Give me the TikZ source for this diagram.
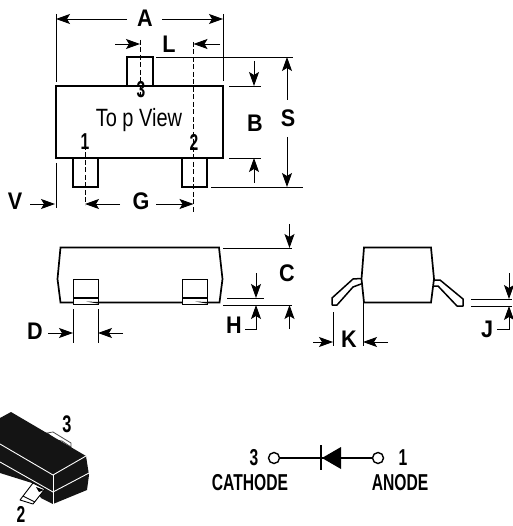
\documentclass[tikz,border=0pt]{standalone}
\usepackage{fontspec}
\usetikzlibrary{arrows.meta}
\setmainfont{Liberation Sans}
\newfontfamily\lblfont[FakeStretch=0.9]{Liberation Sans Bold}
\newfontfamily\numfont[FakeStretch=0.68]{Liberation Sans Bold}
\newfontfamily\viewfont[FakeStretch=0.8]{Liberation Sans}
\tikzset{
  x=1pt,y=-1pt,
  body/.style={draw=black,line width=1.7pt,line join=miter},
  thin line/.style={draw=black,line width=0.9pt},
  dim/.style={draw=black,line width=0.9pt,-{Stealth[length=14pt,width=10pt,inset=3pt]}},
  centre/.style={draw=black,line width=0.9pt,dash pattern=on 5pt off 2.5pt},
  lbl/.style={inner sep=0pt,font=\fontsize{24}{24}\selectfont\lblfont},
  num/.style={inner sep=0pt,font=\fontsize{23}{23}\selectfont\numfont},
}
\begin{document}
\begin{tikzpicture}
\useasboundingbox (0,0) rectangle (512,526);
% ---- top view
\draw[body] (56,86) rectangle (223,158);
\draw[body] (127,86) -- (127,57) -- (153,57) -- (153,86);
\draw[body] (73,158) -- (73,187) -- (98,187) -- (98,158);
\draw[body] (182,158) -- (182,187) -- (207,187) -- (207,158);
\draw[centre] (140,40) -- (140,98);
\draw[centre] (85,145) -- (85,205);
\draw[centre] (193.5,42) -- (193.5,212);
\draw[thin line] (56,14) -- (56,82);
\draw[thin line] (223,14) -- (223,81);
\draw[thin line] (56,163) -- (56,208);
\draw[thin line] (156,57) -- (293,57);
\draw[thin line] (229,86) -- (261,86);
\draw[thin line] (229,158) -- (261,158);
\draw[thin line] (211,187) -- (303,187);
\draw[dim] (127,19) -- (56,19);
\draw[dim] (162,19) -- (223,19);
\draw[dim] (115,44) -- (140,44);
\draw[dim] (220,44) -- (193.5,44);
\draw[dim] (254,61) -- (254,86);
\draw[dim] (254,183) -- (254,158);
\draw[dim] (287,100) -- (287,57);
\draw[dim] (287,137) -- (287,187);
\draw[dim] (30,204) -- (55,204);
\draw[dim] (120,204) -- (85,204);
\draw[dim] (156,204) -- (193.5,204);
\node[lbl] (lA) at (145,18) {A};
\node[lbl] (lL) at (169,44) {L};
\node[lbl] (lB) at (255,123) {B};
\node[lbl] (lS) at (288,118) {S};
\node[lbl] (lV) at (15,201) {V};
\node[lbl] (lG) at (141,201) {G};
\node[num] (n3) at (141,90) {3};
\node[num] (n1) at (85,142) {1};
\node[num] (n2) at (194,142) {2};
\node[inner sep=0pt,font=\fontsize{25}{25}\selectfont\viewfont] (tv) at (139,120) {To p View};
% ---- side view
\draw[body] (60.5,247.5) -- (219,247.5) -- (222.5,279) -- (219.5,302.5) -- (60.5,302.5) -- (57.5,279) -- cycle;
\foreach \xa/\xb in {73/98,182/207}{
  \draw[black,line width=0.9pt,fill=white] (\xa,279) rectangle (\xb,304.5);
  \draw[black,line width=1.7pt] (\xa,298) -- (\xb,298);
  \fill[black] (\xa+13,301.5) -- (\xb,302) -- (\xb,303.5) -- cycle;
}
\draw[thin line] (223,248) -- (292,248);
\draw[thin line] (223,305) -- (292,305);
\draw[thin line] (227,298) -- (264,298);
\draw[thin line] (73,309) -- (73,343);
\draw[thin line] (98,309) -- (98,343);
\draw[dim] (289.5,224) -- (289.5,248);
\draw[dim] (289.5,329) -- (289.5,305);
\draw[dim] (256,273) -- (256,298);
\draw[dim] (245,329) -- (256,329) -- (256,305);
\draw[dim] (48,333) -- (73,333);
\draw[dim] (123,333) -- (98,333);
\node[lbl] (lC) at (287,273) {C};
\node[lbl] (lH) at (234,325) {H};
\node[lbl] (lD) at (35,331) {D};
% ---- end view
\draw[body] (364,247.5) -- (431,247.5) -- (434,279) -- (431,302.5) -- (364,302.5) -- (361.5,279) -- cycle;
\draw[black,line width=1.5pt,line join=round] (361,278.5) -- (353,279) -- (332,298) -- (332,305) -- (337,305) -- (353,287) -- (361,284);
\draw[black,line width=1.5pt,line join=round] (434,280) -- (440,280) -- (463,299) -- (463,306) -- (457,306) -- (438,286) -- (433,286);
\draw[thin line] (333,312) -- (333,346);
\draw[thin line] (363,300) -- (363,346);
\draw[thin line] (471,299) -- (512,299);
\draw[thin line] (471,306) -- (512,306);
\draw[dim] (313,342) -- (333,342);
\draw[dim] (388,342) -- (363,342);
\draw[dim] (509,273) -- (509,299);
\draw[dim] (497,329) -- (509,329) -- (509,306);
\node[lbl] (lK) at (349,339) {K};
\node[lbl] (lJ) at (487,329) {J};
% ---- 3D package
\draw[black!70,line width=0.8pt,fill=white] (47,433) -- (53,432) -- (71,443) -- (71,447) -- (62,441) -- (56,440) -- cycle;
\fill[black!92] (11,412) -- (0,418) -- (0,473) -- (32,483) -- (41,498) -- (53,504) -- (87,490) -- (89,475) -- (86,456) -- cycle;
\draw[white,line width=0.9pt] (0,444) -- (53,475) -- (86,456);
\draw[white,line width=0.9pt] (0,462) -- (53,492) -- (89,473);
\draw[white,line width=0.9pt] (53,475) -- (53,504);
\draw[black,line width=0.9pt,fill=white,line join=round] (33,483) -- (45,489) -- (33,504) -- (20,500) -- cycle;
\draw[black,line width=0.9pt] (23,496) -- (35,502);
\fill[black] (36,487) -- (44,490) -- (39,492) -- cycle;
% ---- schematic
\node[circle,draw=black,line width=1.4pt,inner sep=0pt,minimum size=11pt] (cathode) at (274,458) {};
\node[circle,draw=black,line width=1.4pt,inner sep=0pt,minimum size=11pt] (anode) at (378,458) {};
\draw[black,line width=1.4pt] (cathode) -- (anode);
\draw[black,line width=1.4pt] (321,445) -- (321,470);
\fill[black] (322,458) -- (341,447) -- (341,469) -- cycle;
\node[num] (s3) at (254,458) {3};
\node[num] (s1) at (403,458) {1};
\node[num] (scath) at (250,483) {CATHODE};
\node[num] (sano) at (400,483) {ANODE};
\node[num,font=\fontsize{24}{24}\selectfont\numfont] (p3) at (67,424) {3};
\node[num] (p2) at (21,514.5) {2};
\end{tikzpicture}
\end{document}
